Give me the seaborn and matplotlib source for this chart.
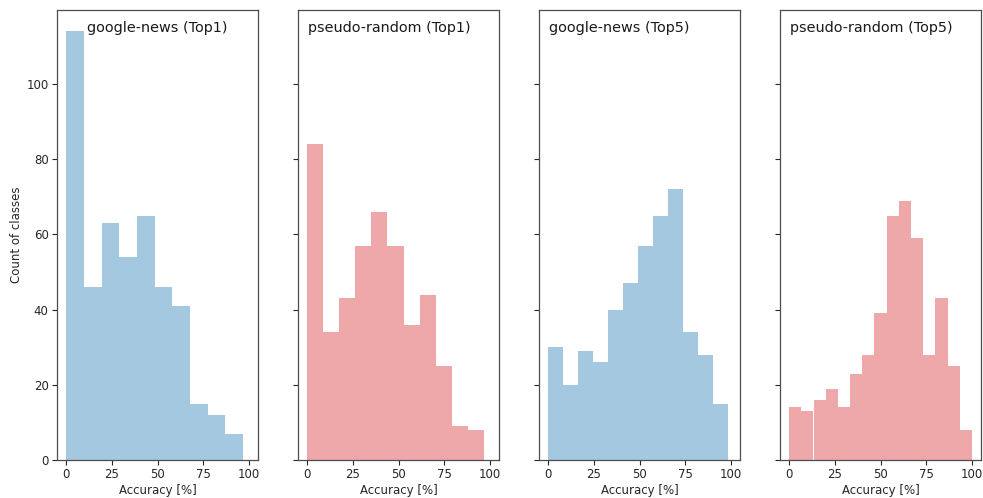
import numpy as np
import pandas as pd
import matplotlib
matplotlib.use("Agg")
import matplotlib.pyplot as plt
import seaborn as sns

# ---- data ----
titles = ["google-news (Top1)", "pseudo-random (Top1)", "google-news (Top5)", "pseudo-random (Top5)"]
colors = ["tab:blue", "tab:red", "tab:blue", "tab:red"]
bin_max = [96.9, 96.7, 98.5, 100.0]
counts_gn_top1 = [114, 46, 63, 54, 65, 46, 41, 15, 12, 7]
counts_pr_top1 = [84, 34, 43, 57, 66, 57, 36, 44, 25, 9, 8]
counts_gn_top5 = [30, 20, 29, 26, 40, 47, 57, 65, 72, 34, 28, 15]
counts_pr_top5 = [14, 13, 16, 19, 14, 23, 28, 39, 65, 69, 59, 28, 43, 25, 8]
all_counts = [counts_gn_top1, counts_pr_top1, counts_gn_top5, counts_pr_top5]
legend_loc = ["center", "left", "left", "left"]

sns.set_style("ticks")
plt.rcParams["font.family"] = ["DejaVu Sans"]

W, H = 983, 498
fig = plt.figure(figsize=(W / 100, H / 100), dpi=100)

lefts = [57, 298, 539, 780]
ax_w = 201
ax_top, ax_bot = 10, 460

axes = []
for i in range(4):
    rect = [lefts[i] / W, (H - ax_bot) / H, ax_w / W, (ax_bot - ax_top) / H]
    ax = fig.add_axes(rect, sharey=axes[0] if axes else None)
    axes.append(ax)

    counts = all_counts[i]
    n = len(counts)
    edges = [float(e) for e in np.linspace(0, bin_max[i], n + 1)]
    centers = [(edges[k] + edges[k + 1]) / 2 for k in range(n)]
    df = pd.DataFrame({"acc": centers, "cnt": counts})
    sns.histplot(data=df, x="acc", weights="cnt", bins=edges, color=colors[i],
                 alpha=0.4, linewidth=0, ax=ax)

    ax.set_xlim(-5, 105)
    ax.set_ylim(0, 119.7)
    ax.set_xticks([0, 25, 50, 75, 100])
    ax.set_yticks([0, 20, 40, 60, 80, 100])
    ax.set_xlabel("Accuracy [%]", fontsize=8.5, color="0.15", labelpad=2)
    if i == 0:
        ax.set_ylabel("Count of classes", fontsize=8.5, color="0.15", labelpad=2.5)
    else:
        ax.set_ylabel("")
        ax.tick_params(axis="y", labelleft=False)
    ax.tick_params(axis="both", labelsize=8.5, direction="out", length=3.5,
                   width=0.8, colors="0.15", pad=2.5)
    for s in ax.spines.values():
        s.set_visible(True)
        s.set_color("0.3")
        s.set_linewidth(0.9)

    if legend_loc[i] == "center":
        ax.text(0.5, 0.975, titles[i], transform=ax.transAxes, ha="center", va="top",
                fontsize=10.4, color="0.1")
    else:
        ax.text(0.05, 0.975, titles[i], transform=ax.transAxes, ha="left", va="top",
                fontsize=10.4, color="0.1")

fig.savefig("out.png", dpi=100)
